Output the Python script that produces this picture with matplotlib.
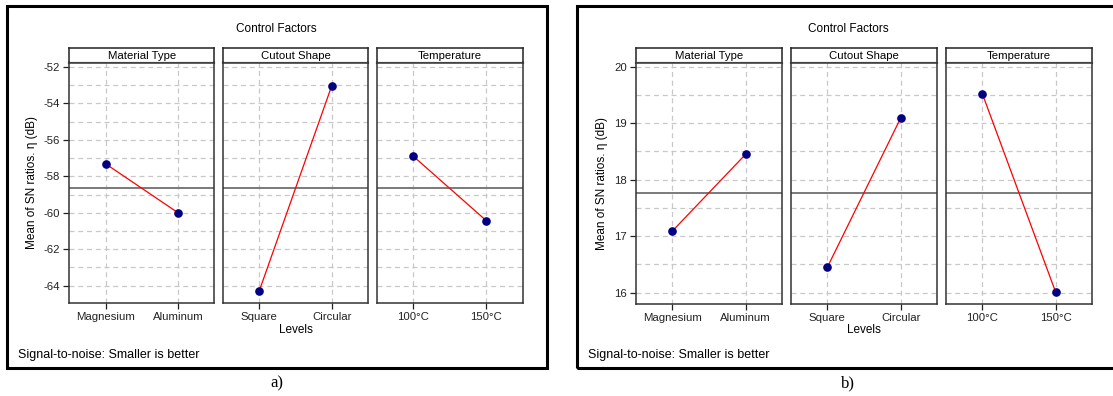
import matplotlib.pyplot as plt
import numpy as np
from matplotlib.patches import Rectangle

plt.rcParams['font.family'] = ['Liberation Sans', 'DejaVu Sans']
plt.rcParams['axes.unicode_minus'] = False

W, H = 1113, 396

factors = ["Material Type", "Cutout Shape", "Temperature"]
levels = [["Magnesium", "Aluminum"], ["Square", "Circular"], ["100°C", "150°C"]]
sn_a = [[-57.31, -60.00], [-64.29, -53.03], [-56.89, -60.43]]
sn_b = [[17.09, 18.45], [16.45, 19.09], [19.52, 16.01]]
yticks_a = [-64, -62, -60, -58, -56, -54, -52]
yticks_b = [16, 17, 18, 19, 20]


def box(x0, y0, x1, y1):
  # pixel box (from top-left) -> figure fraction
  return [x0 / W, 1 - y1 / H, (x1 - x0) / W, (y1 - y0) / H]


def draw_plot(fig, border, panels, ytop, ybot, ylim, data, yticks, minor, label):
  bx0, by0, bx1, by1 = border
  fig.patches.append(Rectangle((bx0 / W, 1 - by1 / H), (bx1 - bx0) / W, (by1 - by0) / H,
                               transform=fig.transFigure, fill=False, lw=2.2,
                               edgecolor="black", zorder=0))
  cx = (bx0 + bx1) / 2
  fig.text(cx / W, 1 - 29 / H, "Control Factors", ha="center", va="center", fontsize=8.5)
  fig.text((bx0 + 11) / W, 1 - 355 / H, "Signal-to-noise: Smaller is better",
           ha="left", va="center", fontsize=9)
  fig.text(cx / W, 1 - 383 / H, label, ha="center", va="center", fontsize=12,
           family="Liberation Serif")

  mean = np.mean(data)
  for i, (x0, x1) in enumerate(panels):
    # strip header
    hx = fig.add_axes(box(x0, 47.7, x1, ytop))
    hx.set_xticks([])
    hx.set_yticks([])
    for s in hx.spines.values():
      s.set_color("#222222")
      s.set_linewidth(1.1)
    hx.spines["bottom"].set_color("#777777")
    hx.spines["bottom"].set_linewidth(1.6)
    hx.text(0.5, 0.45, factors[i], ha="center", va="center", fontsize=8.2,
            transform=hx.transAxes)

    ax = fig.add_axes(box(x0, ytop, x1, ybot))
    ax.set_xlim(0.5, 2.5)
    ax.set_ylim(*ylim)
    ax.set_yticks(np.arange(yticks[0], yticks[-1] + minor / 2, minor), minor=True)
    ax.set_yticks(yticks)
    ax.set_xticks([1, 2])
    ax.set_xticklabels(levels[i], fontsize=8.2)
    ax.grid(True, which="both", color="#c8c8c8", linestyle=(0, (4, 3)), lw=0.9)
    ax.set_axisbelow(True)
    ax.axhline(mean, color="#7a7a7a", lw=1.4, zorder=1)
    ax.plot([1, 2], data[i], color="red", lw=0.9, zorder=2)
    ax.plot([1, 2], data[i], "o", color="#000080", ms=5.2, zorder=3)
    ax.tick_params(axis="both", which="major", length=4.5, width=0.9, pad=2,
                   labelsize=8.2, colors="#222222")
    ax.tick_params(axis="y", which="minor", length=0)
    for s in ax.spines.values():
      s.set_color("#333333")
      s.set_linewidth(1.1)
    if i == 0:
      ax.set_ylabel("Mean of SN ratios. η (dB)", fontsize=8.5, labelpad=4)
    else:
      ax.tick_params(axis="y", which="both", length=0, labelleft=False)
    if i == 1:
      ax.set_xlabel("Levels", fontsize=8.5, labelpad=1)


fig = plt.figure(figsize=(W / 100, H / 100), dpi=100)

draw_plot(fig, (7, 6, 546.5, 368),
          [(69.3, 214.3), (223.0, 368.0), (376.7, 522.7)],
          62.5, 303.3, (-64.97, -51.75), sn_a, yticks_a, 1, "a)")

draw_plot(fig, (576.7, 6, 1119, 368.3),
          [(635.7, 782.3), (790.7, 937.3), (945.7, 1092.3)],
          62.7, 303.7, (15.805, 20.07), sn_b, yticks_b, 0.5, "b)")

fig.savefig("out.png", dpi=100)
